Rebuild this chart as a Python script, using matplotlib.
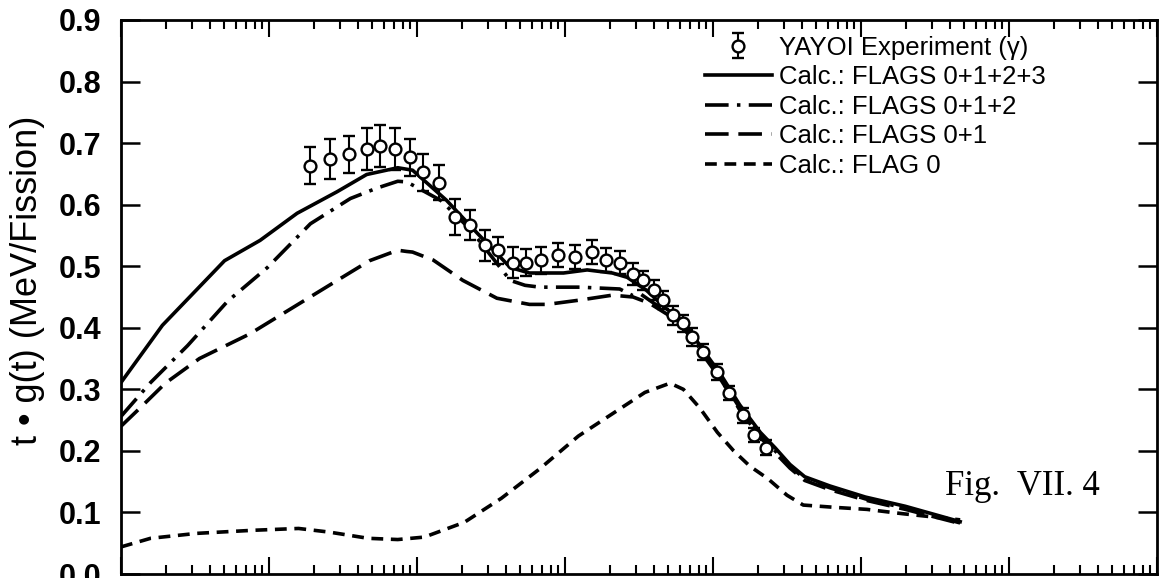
import numpy as np
import matplotlib.pyplot as plt
from matplotlib.ticker import LogLocator, MultipleLocator, FormatStrFormatter, NullFormatter

plt.rcParams['font.family'] = ['Liberation Sans', 'DejaVu Sans']
plt.rcParams['lines.scale_dashes'] = False

# cooling time given as log10(t [s])
# YAYOI experiment (gamma)
exp_logt = [1.28, 1.41, 1.54, 1.66, 1.75, 1.85, 1.95, 2.04, 2.15, 2.26, 2.36, 2.46,
            2.55, 2.65, 2.74, 2.84, 2.95, 3.07, 3.18, 3.28, 3.37, 3.46, 3.53, 3.60,
            3.66, 3.73, 3.80, 3.86, 3.93, 4.03, 4.11, 4.20, 4.28, 4.36]
exp_val = [0.663, 0.674, 0.682, 0.690, 0.696, 0.690, 0.677, 0.653, 0.636, 0.580, 0.567, 0.534,
           0.526, 0.506, 0.506, 0.510, 0.518, 0.515, 0.523, 0.510, 0.506, 0.487, 0.477, 0.461,
           0.445, 0.420, 0.407, 0.385, 0.360, 0.328, 0.294, 0.258, 0.226, 0.205]
exp_err = [0.030, 0.032, 0.030, 0.034, 0.034, 0.034, 0.030, 0.030, 0.028, 0.030, 0.025, 0.025,
           0.022, 0.025, 0.022, 0.022, 0.020, 0.020, 0.020, 0.020, 0.018, 0.018, 0.016, 0.016,
           0.015, 0.015, 0.014, 0.014, 0.013, 0.013, 0.012, 0.012, 0.012, 0.012]

# Calc.: FLAGS 0+1+2+3
f3_logt = [0.0, 0.28, 0.70, 0.94, 1.19, 1.46, 1.66, 1.87, 1.97, 2.20, 2.41, 2.63, 2.76,
           2.99, 3.15, 3.32, 3.42, 3.55, 3.69, 3.80, 3.93, 4.05, 4.18, 4.32, 4.42, 4.52,
           4.62, 4.79, 5.03, 5.30, 5.67]
f3_val = [0.311, 0.404, 0.509, 0.542, 0.586, 0.621, 0.649, 0.660, 0.656, 0.607, 0.553, 0.498, 0.489,
          0.489, 0.494, 0.489, 0.482, 0.461, 0.430, 0.410, 0.365, 0.325, 0.275, 0.230, 0.205, 0.178,
          0.158, 0.143, 0.125, 0.110, 0.085]

# Calc.: FLAGS 0+1+2
f2_logt = [0.0, 0.20, 0.45, 0.72, 0.99, 1.28, 1.55, 1.73, 1.87, 1.93, 2.00, 2.16, 2.36,
           2.63, 2.73, 2.83, 3.10, 3.37, 3.46, 3.51, 3.69, 3.80, 3.93, 4.05, 4.18, 4.32,
           4.42, 4.52, 4.62, 4.79, 5.03, 5.30, 5.67]
f2_val = [0.256, 0.311, 0.371, 0.443, 0.498, 0.569, 0.610, 0.627, 0.638, 0.637, 0.628, 0.607, 0.560,
          0.477, 0.469, 0.466, 0.466, 0.463, 0.452, 0.455, 0.425, 0.405, 0.360, 0.320, 0.270, 0.226,
          0.200, 0.175, 0.155, 0.140, 0.122, 0.107, 0.083]

# Calc.: FLAGS 0+1
f1_logt = [0.0, 0.13, 0.30, 0.53, 0.87, 1.21, 1.55, 1.68, 1.87, 1.93, 1.97, 2.11,
           2.31, 2.54, 2.76, 2.88, 3.10, 3.32, 3.46, 3.57, 3.69, 3.80, 3.93, 4.05, 4.18,
           4.32, 4.42, 4.52, 4.62, 4.79, 5.03, 5.30, 5.67]
f1_val = [0.240, 0.270, 0.310, 0.350, 0.390, 0.440, 0.490, 0.509, 0.526, 0.524, 0.523, 0.510,
          0.477, 0.448, 0.438, 0.438, 0.445, 0.453, 0.450, 0.440, 0.422, 0.400, 0.357, 0.317, 0.267,
          0.222, 0.197, 0.172, 0.152, 0.137, 0.120, 0.105, 0.082]

# Calc.: FLAG 0
f0_logt = [0.0, 0.20, 0.51, 0.89, 1.20, 1.41, 1.67, 1.87, 2.05, 2.32, 2.57, 2.83, 3.09,
           3.35, 3.54, 3.71, 3.80, 3.91, 4.03, 4.14, 4.25, 4.37, 4.50, 4.61, 4.84, 5.04,
           5.28, 5.67]
f0_val = [0.044, 0.058, 0.066, 0.071, 0.074, 0.068, 0.058, 0.056, 0.060, 0.084, 0.123, 0.171, 0.224,
          0.265, 0.295, 0.310, 0.300, 0.270, 0.230, 0.200, 0.175, 0.155, 0.128, 0.112, 0.108, 0.105,
          0.098, 0.088]

fig = plt.figure(figsize=(11.62, 5.78), dpi=100)
ax = fig.add_axes([0.1041, 0.0069, 0.8916, 0.9585])

t = lambda lt: 10 ** np.array(lt)

lw = 2.6
eb = ax.errorbar(t(exp_logt), exp_val, yerr=exp_err, fmt='o', mfc='white', mec='black',
                 ms=8.5, mew=1.7, ecolor='black', elinewidth=1.5, capsize=4.5, capthick=1.5,
                 label='YAYOI Experiment (γ)', zorder=5)
l3, = ax.plot(t(f3_logt), f3_val, color='black', lw=lw, label='Calc.: FLAGS 0+1+2+3')
l2, = ax.plot(t(f2_logt), f2_val, color='black', lw=lw, dashes=(17, 6, 2.5, 6),
              label='Calc.: FLAGS 0+1+2')
l1, = ax.plot(t(f1_logt), f1_val, color='black', lw=lw, dashes=(17, 7),
              label='Calc.: FLAGS 0+1')
l0, = ax.plot(t(f0_logt), f0_val, color='black', lw=lw, dashes=(8.5, 5.5),
              label='Calc.: FLAG 0')

ax.set_xscale('log')
ax.set_xlim(1, 1e7)
ax.set_ylim(0, 0.9)

ax.yaxis.set_major_locator(MultipleLocator(0.1))
ax.yaxis.set_major_formatter(FormatStrFormatter('%.1f'))
ax.xaxis.set_major_locator(LogLocator(base=10, numticks=20))
ax.xaxis.set_minor_locator(LogLocator(base=10, subs=np.arange(2, 10), numticks=20))
ax.xaxis.set_minor_formatter(NullFormatter())

ax.tick_params(axis='y', which='major', direction='in', length=14, width=1.8,
               left=True, right=True, labelsize=22, pad=14)
ax.tick_params(axis='x', which='major', direction='in', length=12, width=1.5,
               top=True, bottom=True, labelbottom=False)
ax.tick_params(axis='x', which='minor', direction='in', length=6.5, width=1.5,
               top=True, bottom=True)
for lab in ax.get_yticklabels():
    lab.set_fontweight('bold')
for s in ax.spines.values():
    s.set_linewidth(2.0)

ax.set_ylabel('t • g(t) (MeV/Fission)', fontsize=26)
ax.yaxis.set_label_coords(-0.073, 0.53)

ax.legend(handles=[eb, l3, l2, l1, l0], loc='upper right', bbox_to_anchor=(0.893, 0.972),
          frameon=False, fontsize=18.5, handlelength=2.6, handletextpad=0.3,
          labelspacing=0.22, borderpad=0, borderaxespad=0)

ax.text(0.795, 0.143, 'Fig.  VII. 4', transform=ax.transAxes, fontsize=25,
        family=['Liberation Serif', 'DejaVu Serif'], va='baseline', ha='left')

fig.savefig('out.png', dpi=100)
